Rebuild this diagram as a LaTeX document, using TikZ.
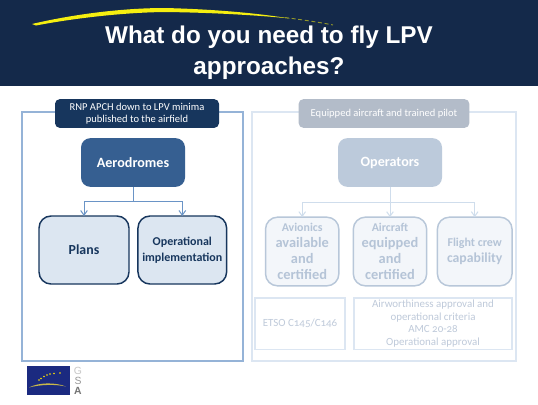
\documentclass[tikz,border=0pt]{standalone}
\usepackage{fontspec}
\setmainfont{Carlito}
\newfontfamily\titlefont{Liberation Sans}
\usetikzlibrary{arrows.meta,positioning}
\definecolor{band}{HTML}{14294A}
\definecolor{framea}{HTML}{95B3D7}
\definecolor{frameb}{HTML}{DCE6F2}
\definecolor{labela}{HTML}{17365D}
\definecolor{labelb}{HTML}{B3BCC9}
\definecolor{heada}{HTML}{365F91}
\definecolor{headb}{HTML}{BCCADB}
\definecolor{boxa}{HTML}{DCE6F1}
\definecolor{boxb}{HTML}{F3F6FA}
\definecolor{edgeb}{HTML}{B8C7D9}
\definecolor{texta}{HTML}{17365D}
\definecolor{textb}{HTML}{B5C4D7}
\definecolor{lina}{HTML}{6A94C6}
\definecolor{linb}{HTML}{CFDDEC}
\definecolor{smalltext}{HTML}{BFCADA}
\definecolor{logoblue}{HTML}{1B2A80}
\definecolor{logogold}{HTML}{C9B84A}
\definecolor{swoosh}{HTML}{F5EE10}
\newcommand{\subsmall}{\fontsize{8.9}{15.7}\selectfont}
\newcommand{\subbig}{\fontsize{10.8}{15.7}\selectfont}
\tikzset{
  x=0.75pt,y=-0.75pt,
  every node/.style={inner sep=0pt,outer sep=0pt,align=center},
  tag/.style={rounded corners=3.5pt,text=white,font=\fontsize{7.9}{9.2}\selectfont},
  head/.style={rounded corners=7pt,minimum width=78pt,minimum height=36.5pt,text=white,font=\fontsize{10.6}{13}\bfseries\selectfont},
  suba/.style={draw=labela,fill=boxa,line width=1.1pt,rounded corners=9pt,minimum height=51pt,text=texta,font=\bfseries},
  subb/.style={draw=edgeb,fill=boxb,line width=1.1pt,rounded corners=9pt,minimum height=51.5pt,text=textb,font=\bfseries},
  note/.style={draw=frameb,line width=1pt,minimum height=38.5pt,text=smalltext,font=\addfontfeature{Numbers=OldStyle}\fontsize{8.2}{9.4}\selectfont},
  linka/.style={draw=lina,line width=0.75pt,-{Straight Barb[length=3.5pt,width=5pt]}},
  linkb/.style={draw=linb,line width=0.75pt,-{Straight Barb[length=3.5pt,width=5pt]}},
  logoletter/.style={font=\titlefont\fontsize{7.8}{7.8}\selectfont},
}
\begin{document}
\begin{tikzpicture}
\useasboundingbox (0,0) rectangle (538,404);
\fill[white] (0,0) rectangle (538,404);
\fill[band] (0,0) rectangle (538,86);
\fill[swoosh] (32,24) .. controls (70,15) and (120,8) .. (165,8) .. controls (205,9) and (250,12) .. (290,18.5)
  .. controls (250,14.5) and (205,12.5) .. (165,12) .. controls (120,12.5) and (70,19) .. (36,25.5) -- cycle;
\draw[swoosh!55!band,line width=0.7pt,dash pattern=on 3pt off 2pt] (285,17.5) .. controls (300,19.5) and (318,22) .. (333,25);
\node[text=white,font=\titlefont\bfseries\fontsize{18.2}{23}\selectfont] (title) at (269,53) {What do you need to fly LPV\\approaches?};

\node[draw=framea,line width=1.6pt,minimum width=165.5pt,minimum height=186.5pt] (fa) at (132.5,236.5) {};
\node[draw=frameb,line width=1.6pt,minimum width=198.5pt,minimum height=186.5pt] (fb) at (384,236.5) {};
\node[tag,fill=labela,minimum width=123pt,minimum height=21.5pt] (ta) at (137,113.5) {RNP APCH down to LPV minima\\published to the airfield};
\node[tag,fill=labelb,minimum width=128pt,minimum height=21.5pt] (tb) at (384,113.5) {Equipped aircraft and trained pilot};

\node[head,fill=heada] (aero) at (133,162.5) {Aerodromes};
\node[suba,minimum width=67.5pt] (plans) at (84,250) {\fontsize{10.4}{13}\selectfont Plans};
\node[suba,minimum width=66.5pt] (opimp) at (182.3,250) {\fontsize{9}{11.2}\selectfont Operational\\\fontsize{9}{11.2}\selectfont implementation};
\coordinate (ja) at (133,201);
\draw[linka] (aero.south) -- (ja) -| (plans.north);
\draw[linka] (ja) -| (opimp.north);

\node[head,fill=headb] (oper) at (390,162.5) {Operators};
\node[subb,minimum width=55pt] (avion) at (302.2,251.5) {\subsmall Avionics\\\subbig available\\\subbig and\\\subbig certified};
\node[subb,minimum width=55pt] (acft) at (390,251.5) {\subsmall Aircraft\\\subbig equipped\\\subbig and\\\subbig certified};
\node[subb,minimum width=56pt] (crew) at (474.7,251.5) {\fontsize{9}{11.5}\selectfont Flight crew\\\fontsize{10.3}{11.5}\selectfont capability};
\coordinate (jb) at (390,202);
\draw[linkb] (oper.south) -- (jb) -| (avion.north);
\draw[linkb] (jb) -- (acft.north);
\draw[linkb] (jb) -| (crew.north);

\node[note,minimum width=67.5pt] (etso) at (300,323.5) {ETSO C145/C146};
\node[note,minimum width=118.5pt] (airw) at (433,323.5) {\strut\\[-10.4pt]Airworthiness approval and\\operational criteria\\AMC 20-28\\Operational approval};

% logo
\fill[logoblue] (27,366) rectangle (70,395);
\fill[logogold] (29,387.5) .. controls (38,382.5) and (55,382) .. (66,386.5) .. controls (55,384) and (40,384.5) .. (29,387.5) -- cycle;
\foreach \px/\py in {39/380, 41/378.5, 44/376.5, 47/375, 50/374, 54/373.5, 60/373}
  \fill[yellow!85!orange] (\px,\py) circle[radius=0.8];
\node[text=black!22,logoletter] (g) at (78,370.5) {G};
\node[text=black!40,logoletter] (s) at (78,380.5) {S};
\node[text=black!55,logoletter,font=\titlefont\bfseries\fontsize{7.8}{7.8}\selectfont] (a) at (78,390.5) {A};
\end{tikzpicture}
\end{document}
